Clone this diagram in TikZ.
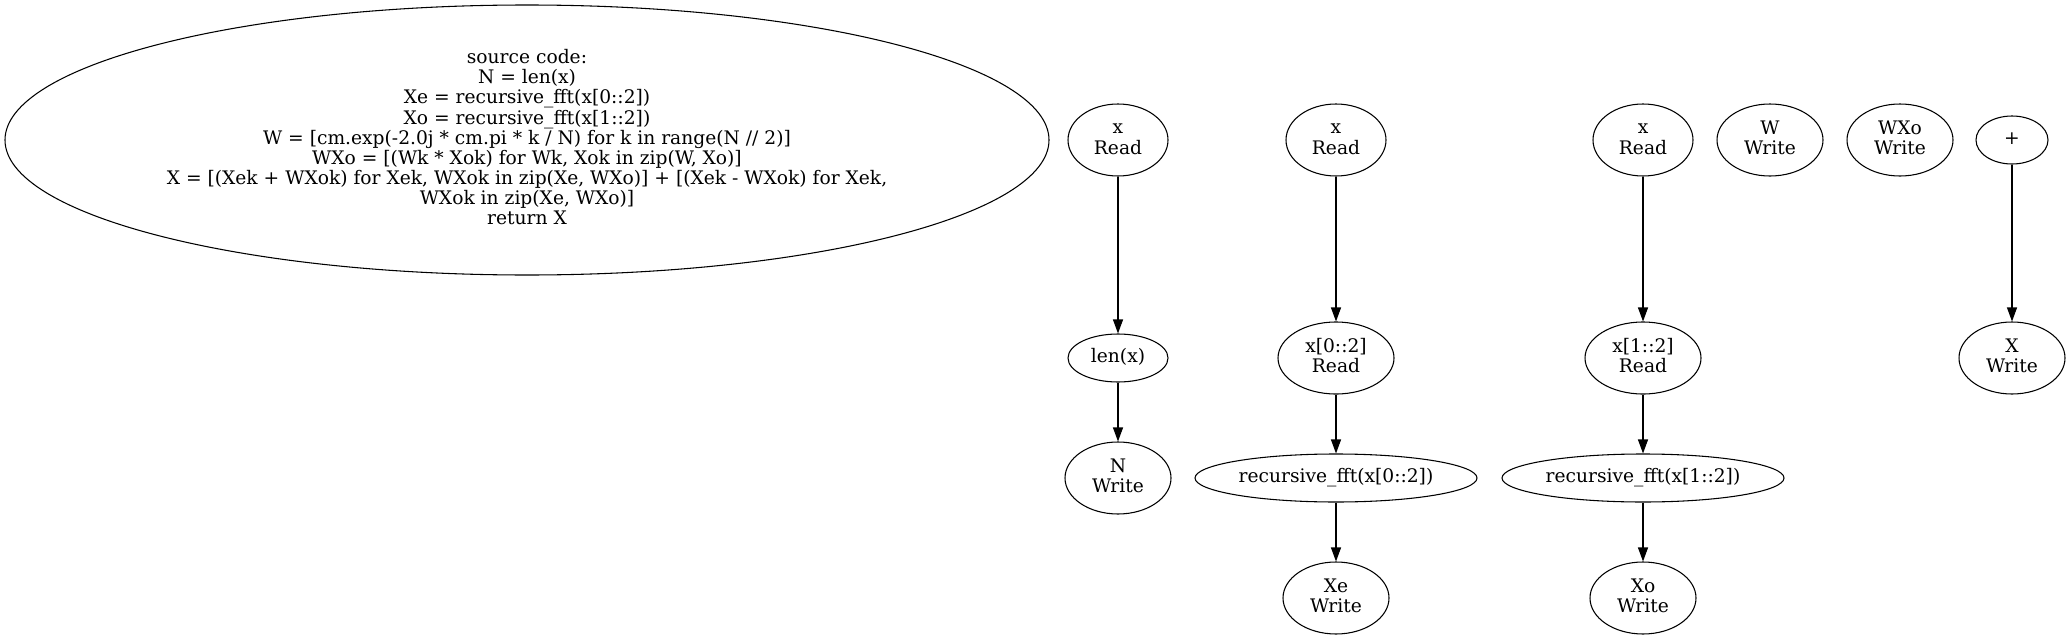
\documentclass[tikz,border=0pt]{standalone}
\usepackage{fontspec}
\setmainfont{DejaVu Serif}
\usetikzlibrary{arrows.meta, shapes.geometric}
\newcommand{\lines}[1]{\begin{tabular}{@{}c@{}}#1\end{tabular}}

\begin{document}
\begin{tikzpicture}[x=0.75pt, y=-0.75pt,
	op/.style={draw, ellipse, inner sep=0pt, line width=0.8pt, font=\fontsize{14}{15}\selectfont},
	tworow/.style={op, minimum width=75pt, minimum height=54pt},
	writebox/.style={op, minimum width=79.5pt, minimum height=54pt},
	onerow/.style={op, minimum height=36pt},
	edge/.style={black, line width=0.8pt, -{Triangle[length=10.5pt, width=7.5pt]}}]
	\useasboundingbox (0,0) rectangle (2068,639);
	% source listing
	\node[op, minimum width=783pt, minimum height=202.5pt] (src) at (527,140) {\lines{source code:\\
		N = len(x)\\
		Xe = recursive\_fft(x[0::2])\\
		Xo = recursive\_fft(x[1::2])\\
		W = [cm.exp(-2.0j * cm.pi * k / N) for k in range(N // 2)]\\
		WXo = [(Wk * Xok) for Wk, Xok in zip(W, Xo)]\\
		X = [(Xek + WXok) for Xek, WXok in zip(Xe, WXo)] + [(Xek - WXok) for Xek,\\
		WXok in zip(Xe, WXo)]\\
		return X}};
	% N = len(x)
	\node[tworow] (xr1) at (1118,140) {\lines{x\\Read}};
	\node[onerow, minimum width=75pt] (len) at (1118,358) {\lines{len(x)}};
	\node[writebox] (N) at (1118,478) {\lines{N\\Write}};
	% even half
	\node[tworow] (xr2) at (1336,140) {\lines{x\\Read}};
	\node[tworow, minimum width=87pt] (xer) at (1336,358) {\lines{x[0::2]\\Read}};
	\node[onerow, minimum width=211.5pt] (rfe) at (1336,478) {\lines{recursive\_fft(x[0::2])}};
	\node[writebox] (Xe) at (1336,598) {\lines{Xe\\Write}};
	% odd half
	\node[tworow] (xr3) at (1643,140) {\lines{x\\Read}};
	\node[tworow, minimum width=87pt] (xor) at (1643,358) {\lines{x[1::2]\\Read}};
	\node[onerow, minimum width=211.5pt] (rfo) at (1643,478) {\lines{recursive\_fft(x[1::2])}};
	\node[writebox] (Xo) at (1643,598) {\lines{Xo\\Write}};
	% combine
	\node[writebox] (W) at (1770,140) {\lines{W\\Write}};
	\node[writebox] (WXo) at (1900,140) {\lines{WXo\\Write}};
	\node[onerow, minimum width=54pt] (plus) at (2012,140) {\lines{+}};
	\node[writebox] (X) at (2012,358) {\lines{X\\Write}};
	\foreach \a/\b in {xr1/len, len/N, xr2/xer, xer/rfe, rfe/Xe, xr3/xor, xor/rfo, rfo/Xo, plus/X}{
		\draw[edge] (\a) -- (\b);
	}
\end{tikzpicture}
\end{document}
